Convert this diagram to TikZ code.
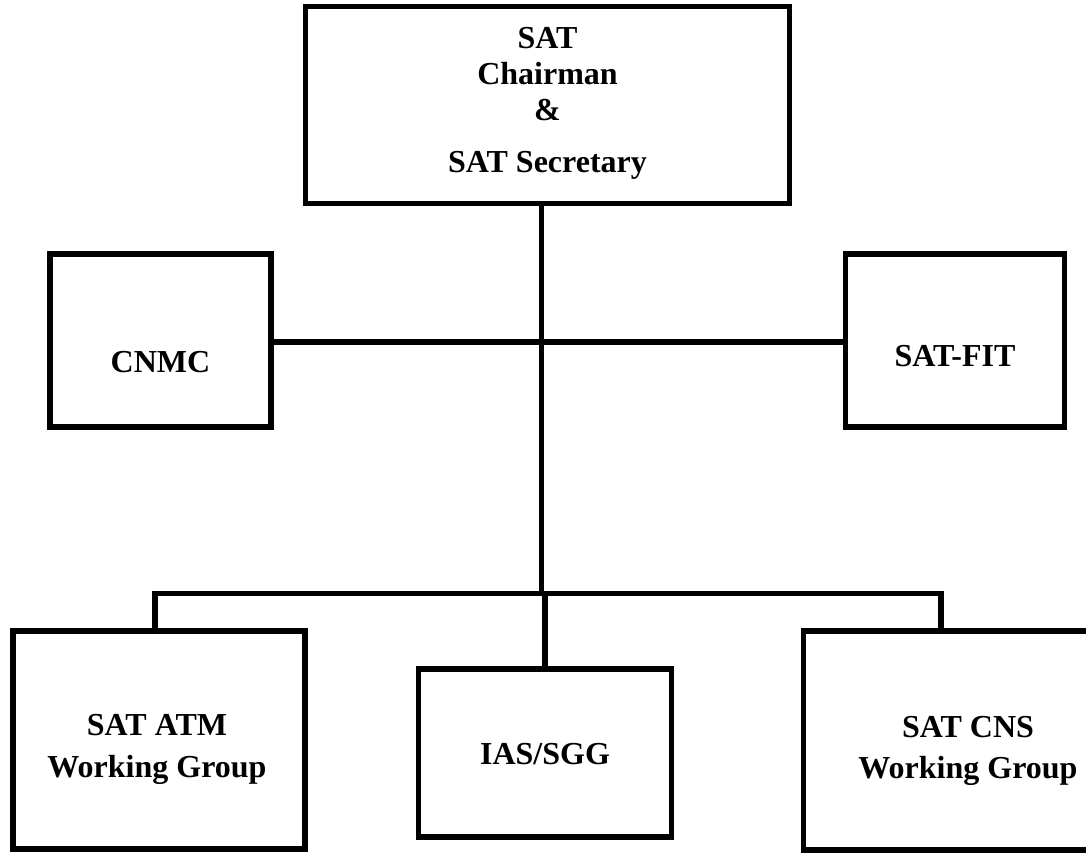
\documentclass[tikz,border=0pt]{standalone}
\usepackage{fontspec}
\setmainfont{Liberation Serif}
\tikzset{box/.style={draw,line width=5.5pt,rectangle,inner sep=0pt},
  lbl/.style={font=\bfseries\fontsize{32}{36}\selectfont,align=center,inner sep=0pt},
  link/.style={line width=5.5pt}}

\begin{document}
\begin{tikzpicture}[x=1pt,y=-1pt]
\clip (0,0) rectangle (1086,852);
% boxes
\node[box,minimum width=484pt,minimum height=197pt] (sat) at (547.5,105) {};
\node[box,minimum width=221pt,minimum height=173pt] (cnmc) at (160.5,340.5) {};
\node[box,minimum width=219pt,minimum height=173pt] (satfit) at (955,340.5) {};
\node[box,minimum width=292pt,minimum height=218pt] (atm) at (159,740) {};
\node[box,minimum width=253pt,minimum height=168pt] (ias) at (545,753) {};
\node[box,minimum width=329pt,minimum height=219pt] (cns) at (968,740.5) {};
% texts
\node[lbl] (sat-t) at ([yshift=1.25pt]sat.center) {SAT\\Chairman\\\&\\[16pt]SAT Secretary};
\node[lbl] (cnmc-t) at ([yshift=-21.5pt]cnmc.center) {CNMC};
\node[lbl] (satfit-t) at ([yshift=-16pt]satfit.center) {SAT-FIT};
\node[lbl] (atm-t) at ([xshift=-2pt,yshift=-9.3pt]atm.center) {SAT ATM\\[6pt]Working Group};
\node[lbl] (ias-t) at ([yshift=-1.5pt]ias.center) {IAS/SGG};
\node[lbl] (cns-t) at ([yshift=-10.5pt]cns.center) {SAT CNS\\[5pt]Working Group};
% connectors
\coordinate (hub) at (541.5,342);
\coordinate (split) at (541.5,593.5);
\coordinate (tl) at (155,593.5);
\coordinate (tr) at (941,593.5);
\draw[link] (sat.south -| hub) -- (split);
\draw[link] (cnmc.east |- hub) -- (satfit.west |- hub);
\draw[link] (atm.north -| tl) -- (tl) -- (tr) -- (cns.north -| tr);
\draw[link] (split -| ias.north) -- (ias.north);
\end{tikzpicture}
\end{document}
